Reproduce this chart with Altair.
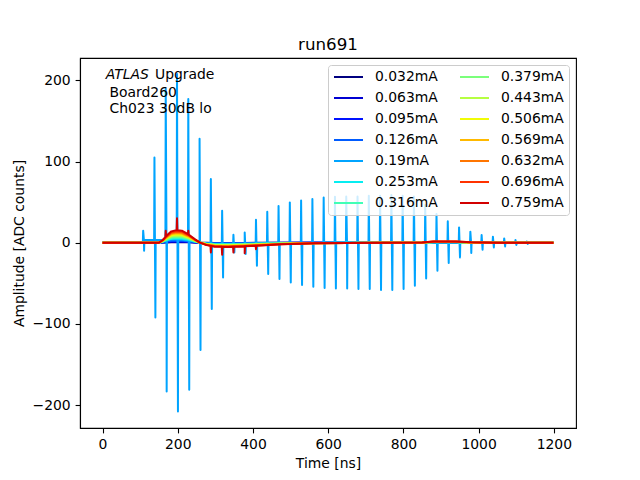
import altair as alt
import numpy as np
import pandas as pd

labels = ["0.032mA", "0.063mA", "0.095mA", "0.126mA", "0.19mA", "0.253mA", "0.316mA",
          "0.379mA", "0.443mA", "0.506mA", "0.569mA", "0.632mA", "0.696mA", "0.759mA"]
colors = ["#000080", "#0000d2", "#0012ff", "#005bff", "#00a4ff", "#06edf1", "#41ffb6",
          "#7bff7b", "#b6ff41", "#f1fc06", "#ffb900", "#ff7500", "#ff3200", "#d20000"]
# pulse peak amplitude of each series (ADC counts)
peak = [0.7, 1.3, 2.0, 2.6, 3.9, 5.2, 6.5, 7.8, 9.0, 10.3, 11.6, 12.9, 14.2, 15.5]

# pulse shape
pulse_t = [0, 100, 106, 110, 150, 160, 170, 183, 196, 211, 227, 245, 258, 276, 298, 334,
           378, 422, 475, 529, 564, 650, 750, 850, 880, 940, 980, 1050, 1199]
pulse_v = [0, 0, 0, 0, 0, 3.3, 8.5, 14, 15.5, 14.8, 10.7, 4.5, 0.4, -2.9, -4.9, -5.3,
           -4.5, -3.3, -2.0, -1.2, -0.8, -0.4, -0.1, 0.3, 1.5, 1.5, 0.5, 0, 0]
# small pedestal of the 0.19mA curve before the pulse
pedestal_019 = [0, 0, 0, 3.3, 3.3, 2.5, 1.5, 0.5, 0, 0, 0, 0, 0, 0, 0, 0,
                0, 0, 0, 0, 0, 0, 0, 0, 0, 0, 0, 0, 0]

# oscillation spikes of the 0.19mA curve
spike_t = [108, 138, 168, 198, 228, 258, 288, 318, 348, 378, 408, 438, 468, 498, 528, 558,
           588, 618, 648, 678, 708, 738, 768, 798, 828, 858, 888, 918, 948, 978, 1008,
           1038, 1068, 1098, 1128]
spike_up = [14.8, 105, 189.5, 208, 177, 128, 78.5, 39.5, 9.9, 12.7, 28.4, 38.2, 45.3, 49.7,
            52, 54, 55.8, 56.7, 57, 57, 58, 58, 58.8, 58, 57, 46.5, 35.4, 26.3, 18.9, 13.6,
            9.5, 7.4, 5.3, 3.3, 1.5]
spike_dn = [-9.9, -92.1, -183.4, -208, -181.3, -132.3, -81.8, -42.8, -12, -13.9, -28.4,
            -38.6, -44.8, -49, -52.2, -54.3, -55.9, -56.5, -56.4, -57, -57, -58.3, -58.3,
            -57, -53, -44, -34.5, -25, -18.1, -12.7, -8.6, -5.8, -4.6, -2.8, -1.5]

# small spikes visible on the 0.759mA curve
red_spike_t = [168, 198, 228, 288, 318, 348, 378, 408]
red_spike_v = [14.8, 30, 14.8, -12, -14.8, -12, -13, -8]

x_ticks = [0, 200, 400, 600, 800, 1000, 1200]
y_ticks = [-200, -100, 0, 100, 200]

rows = []
pv = np.array(pulse_v)
for i, lab in enumerate(labels):
    base = pv * peak[i] / max(pulse_v)
    if lab == "0.19mA":
        base = base + np.array(pedestal_019)
    pts = list(zip(pulse_t, base))
    if lab == "0.19mA":
        for tk, up, dn in zip(spike_t, spike_up, spike_dn):
            b0 = float(np.interp(tk - 0.8, pulse_t, base))
            b1 = float(np.interp(tk + 3.3, pulse_t, base))
            pts += [(tk - 0.8, b0), (tk, up), (tk + 2.5, dn), (tk + 3.3, b1)]
    if lab == "0.759mA":
        for tk, sv in zip(red_spike_t, red_spike_v):
            b0 = float(np.interp(tk - 1.0, pulse_t, base))
            b1 = float(np.interp(tk + 1.0, pulse_t, base))
            pts += [(tk - 1.0, b0), (tk, sv), (tk + 1.0, b1)]
    pts.sort(key=lambda p: p[0])
    for j, (t, v) in enumerate(pts):
        rows.append({"series": lab, "t": float(t), "v": float(v), "k": j})
df = pd.DataFrame(rows)

FONT = "DejaVu Sans"

lines = alt.Chart(df).mark_line(strokeWidth=2, strokeJoin="round", clip=True).encode(
    x=alt.X("t:Q", title="Time [ns]",
            scale=alt.Scale(domain=[-59.95, 1258.95], nice=False, zero=False),
            axis=alt.Axis(values=x_ticks, format="d")),
    y=alt.Y("v:Q", title="Amplitude [ADC counts]",
            scale=alt.Scale(domain=[-228.3, 227.6], nice=False, zero=False),
            axis=alt.Axis(values=y_ticks, format="d")),
    color=alt.Color("series:N",
                    scale=alt.Scale(domain=labels, range=colors),
                    legend=alt.Legend(title=None, orient="top-right", columns=2,
                                      symbolType="stroke", symbolSize=841,
                                      symbolStrokeWidth=2, labelOffset=11,
                                      clipHeight=14,
                                      columnPadding=21, rowPadding=7,
                                      labelFontSize=13.9, labelFont=FONT,
                                      labelColor="black", padding=5, offset=7,
                                      fillColor="rgba(255,255,255,0.8)",
                                      strokeColor="#cccccc", cornerRadius=3,
                                      labelLimit=200)),
    order=alt.Order("k:Q"),
)

def label(txt, x, y, style="normal", size=13.9, align="left"):
    return alt.Chart(pd.DataFrame({"a": [0]})).mark_text(
        align=align, baseline="alphabetic", font=FONT, fontSize=size,
        fontStyle=style, color="black").encode(
        x=alt.value(x), y=alt.value(y), text=alt.value(txt))

texts = [
    label("ATLAS", 25.7, 21, "italic"),
    label("Upgrade", 75, 21),
    label("Board260", 29.5, 38.5),
    label("Ch023 30dB lo", 29.5, 55),
    label("run691", 248, -8.3, size=16.7, align="center"),
]

chart = alt.layer(lines, *texts).properties(
    width=496, height=370,
    autosize=alt.AutoSizeParams(type="none"),
    padding={"left": 72, "top": 50, "right": 56, "bottom": 45},
).configure_view(stroke="black", strokeWidth=1.1).configure_axis(
    labelFont=FONT, labelFontSize=13.9, labelColor="black",
    titleFont=FONT, titleFontSize=13.9, titleFontWeight="normal", titleColor="black",
    tickSize=4.9, tickColor="black", tickWidth=1.1,
    domainColor="black", domainWidth=1.1, labelPadding=4.9, grid=False,
).configure_axisY(titlePadding=6).configure_axisX(titlePadding=5)

chart.save("out.html", embed_options={"renderer": "svg", "actions": False})
